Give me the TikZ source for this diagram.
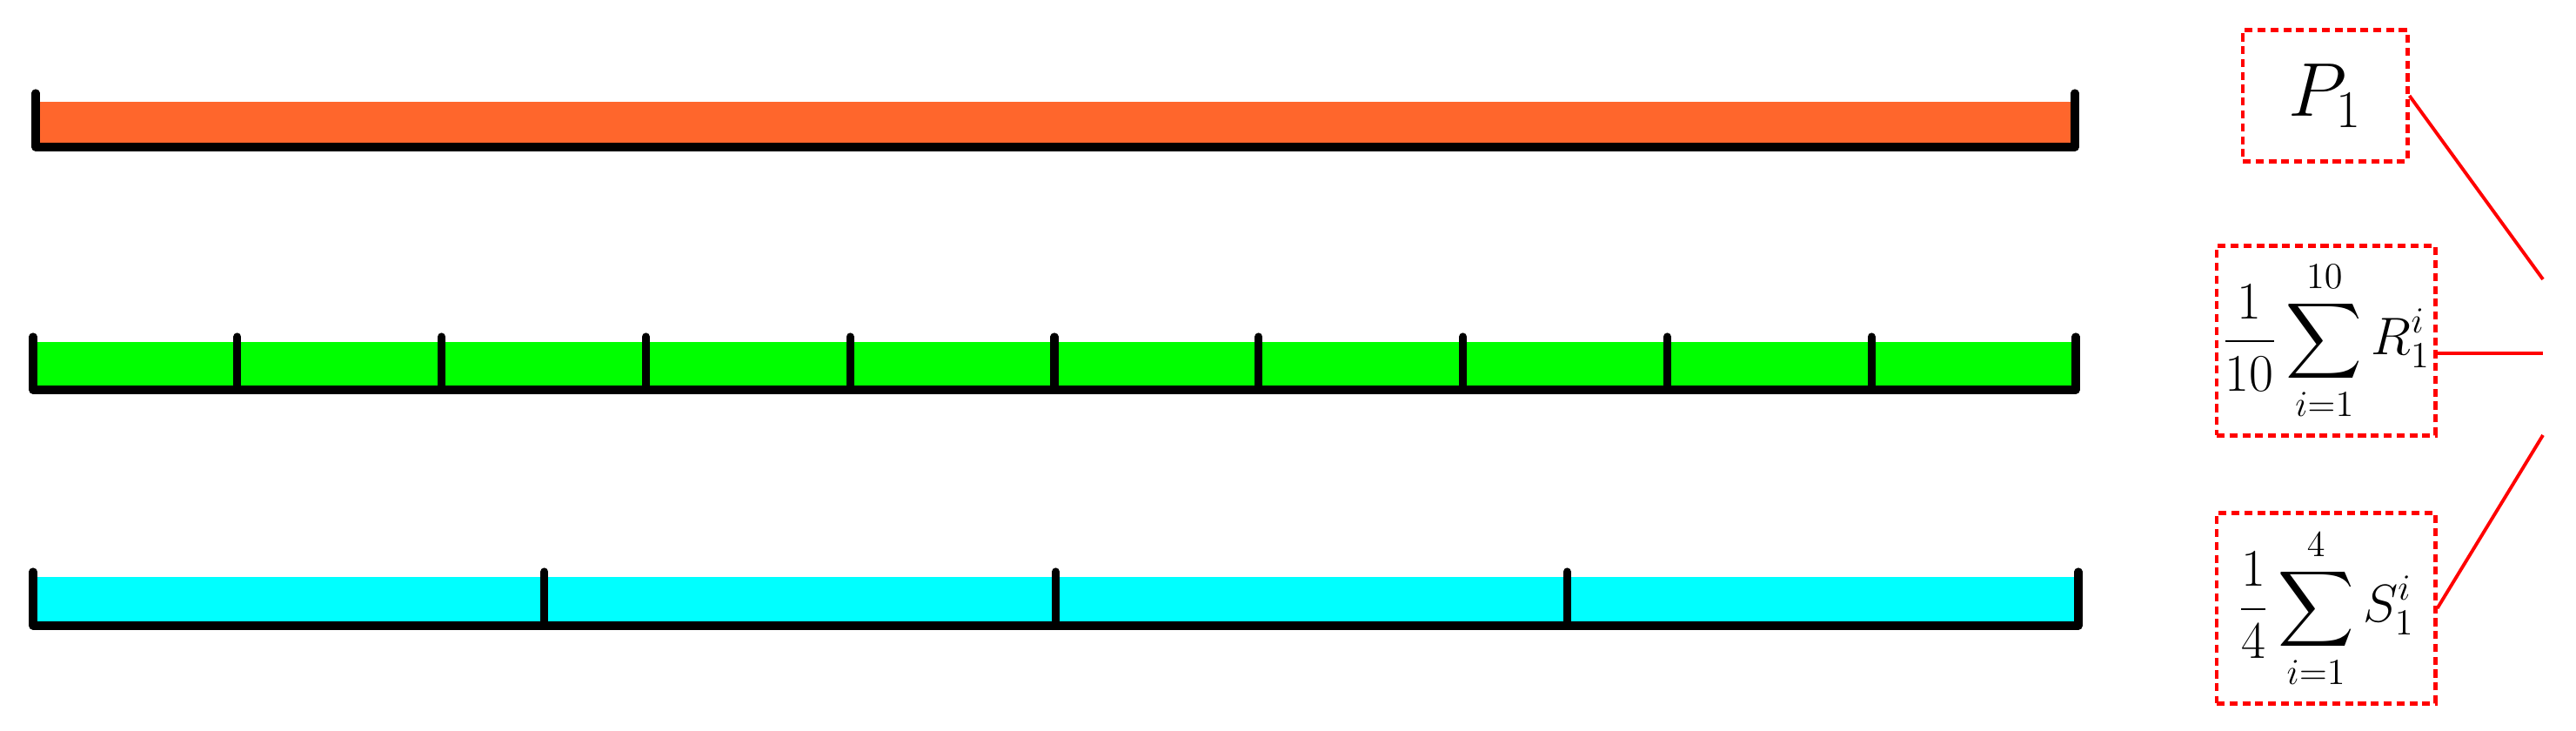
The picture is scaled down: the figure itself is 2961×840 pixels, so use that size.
\documentclass[tikz,border=0pt]{standalone}
\usepackage{amsmath}
\definecolor{barorange}{RGB}{255,102,44}
\definecolor{bargreen}{RGB}{0,255,0}
\definecolor{barcyan}{RGB}{0,255,255}
\begin{document}
\begin{tikzpicture}[x=0.01cm,y=-0.01cm,
  barline/.style={line width=2.6pt,black,line cap=round,line join=round},
  tickline/.style={line width=2.6pt,black,line cap=round},
  mathbox/.style={draw=red,line width=1.4pt,dash pattern=on 2.6pt off 1.6pt,inner sep=0pt},
  conn/.style={draw=red,line width=1.1pt}]
\useasboundingbox (0,0) rectangle (2961,840);
% orange bar
\fill[barorange] (41,117) rectangle (2385,169);
\draw[barline] (41,107) -- (41,169) -- (2385,169) -- (2385,107);
% green bar
\fill[bargreen] (38,393) rectangle (2386,448);
\draw[barline] (38,387) -- (38,448) -- (2386,448) -- (2386,387);
\foreach \k in {1,...,9}{
  \draw[tickline] ({38+234.8*\k},387) -- ({38+234.8*\k},448);
}
% cyan bar
\fill[barcyan] (38,663) rectangle (2389,719);
\draw[barline] (38,657) -- (38,719) -- (2389,719) -- (2389,657);
\foreach \k in {1,2,3}{
  \draw[tickline] ({38+587.75*\k},657) -- ({38+587.75*\k},719);
}
% boxes
\node[mathbox,minimum width=1.89cm,minimum height=1.50cm,font=\fontsize{23}{26}\selectfont] (P) at (2672.5,110) {$P_1$};
\node[mathbox,minimum width=2.51cm,minimum height=2.17cm,font=\fontsize{17}{20}\selectfont] (R) at (2673.5,391.5) {$\displaystyle\frac{1}{10}\sum_{i=1}^{10} R_1^i$};
\node[mathbox,minimum width=2.51cm,minimum height=2.18cm,font=\fontsize{17}{20}\selectfont] (S) at (2673.5,699) {$\displaystyle\frac{1}{4}\sum_{i=1}^{4} S_1^i$};
% connectors
\coordinate (c1) at (2923,321);
\coordinate (c2) at (2923,406);
\coordinate (c3) at (2923,500);
\draw[conn] (P.east) -- (c1);
\draw[conn] (R.east |- c2) -- (c2);
\draw[conn] (S.east) -- (c3);
\end{tikzpicture}
\end{document}
